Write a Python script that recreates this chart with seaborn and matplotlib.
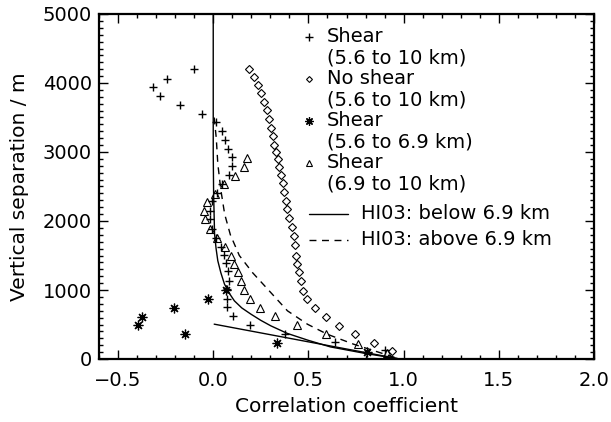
import numpy as np
import pandas as pd
import matplotlib
matplotlib.use("Agg")
import matplotlib.pyplot as plt
import seaborn as sns
from matplotlib.ticker import MultipleLocator

# ---- data ----
shear_x = [-0.103, -0.242, -0.315, -0.280, -0.172, -0.059, 0.012, 0.045, 0.063, 0.078,
           0.099, 0.099, 0.084, 0.047, 0.019, -0.005, -0.016, -0.016, -0.007, 0.012,
           0.042, 0.054, 0.065, 0.077, 0.085, 0.073, 0.071, 0.073, 0.103, 0.195,
           0.379, 0.638, 0.904]
shear_y = [4201, 4065, 3935, 3808, 3677, 3557, 3430, 3299, 3179, 3048,
           2926, 2798, 2667, 2536, 2408, 2286, 2151, 2031, 1885, 1754,
           1618, 1507, 1391, 1269, 1134, 1010, 876, 756, 625, 494,
           359, 247, 126]

noshear_x = [0.190, 0.213, 0.233, 0.251, 0.268, 0.282, 0.294, 0.303, 0.312, 0.320,
             0.329, 0.338, 0.346, 0.355, 0.364, 0.372, 0.381, 0.390, 0.398, 0.413,
             0.425, 0.428, 0.433, 0.442, 0.451, 0.460, 0.474, 0.495, 0.534, 0.590,
             0.660, 0.747, 0.846, 0.938]
noshear_y = [4196, 4089, 3978, 3856, 3725, 3605, 3484, 3353, 3227, 3106,
             2999, 2892, 2781, 2660, 2548, 2417, 2297, 2176, 2039, 1908,
             1788, 1650, 1497, 1376, 1254, 1124, 988, 868, 737, 610,
             480, 359, 237, 116]

low_x = [-0.376, -0.397, -0.207, -0.146, -0.026, 0.065, 0.333, 0.808]
low_y = [615, 494, 746, 359, 872, 1006, 237, 106]

high_x = [0.175, 0.159, 0.116, 0.059, 0.007, -0.031, -0.047, -0.045, -0.015, 0.022,
          0.062, 0.094, 0.111, 0.132, 0.146, 0.163, 0.195, 0.247, 0.325, 0.439,
          0.590, 0.761, 0.912]
high_y = [2910, 2788, 2653, 2529, 2394, 2272, 2151, 2031, 1890, 1751,
          1628, 1497, 1376, 1254, 1134, 999, 868, 746, 625, 487,
          356, 214, 83]

below_curve_x = [0.0, 0.0, 0.002, 0.007, 0.015, 0.024, 0.040, 0.059, 0.085, 0.111,
                 0.150, 0.198, 0.250, 0.303, 0.390, 0.500, 0.616, 0.800, 0.980]
below_curve_y = [5000, 3000, 2400, 1812, 1600, 1424, 1250, 1086, 950, 843,
                 740, 650, 560, 480, 370, 270, 175, 80, 0]
below_line_x = [0.005, 0.980]
below_line_y = [505, 0]

above_curve_x = [0.005, 0.016, 0.024, 0.040, 0.060, 0.090, 0.137, 0.207, 0.294, 0.390,
                 0.495, 0.599, 0.738, 0.912, 0.980]
above_curve_y = [3500, 3200, 2830, 2450, 2100, 1800, 1500, 1250, 988, 698,
                 504, 359, 214, 60, 0]

legend_titles = ["Shear", "No shear", "Shear", "Shear"]
legend_ranges = ["(5.6 to 10 km)", "(5.6 to 10 km)", "(5.6 to 6.9 km)", "(6.9 to 10 km)"]
line_labels = ["HI03: below 6.9 km", "HI03: above 6.9 km"]
xticks = [-0.5, 0.0, 0.5, 1.0, 1.5, 2.0]
yticks = [0, 1000, 2000, 3000, 4000, 5000]

# ---- style ----
sns.set_theme(style="ticks")
plt.rcParams["font.family"] = ["DejaVu Sans"]
plt.rcParams["text.color"] = "black"
plt.rcParams["axes.labelcolor"] = "black"
FS = 14

W, H = 611, 422
L, R, T, B = 99, 594, 14, 359
fig = plt.figure(figsize=(W / 100, H / 100), dpi=100)
ax = fig.add_axes([L / W, 1 - B / H, (R - L) / W, (B - T) / H])

def ax_x(px):
    return (px - L) / (R - L)

def ax_y(py):
    return (B - py) / (B - T)

mk = dict(color="black", linestyle="none", zorder=3)
sns.lineplot(x=below_curve_x, y=below_curve_y, sort=False, estimator=None, ax=ax,
             color="black", lw=1.0)
sns.lineplot(x=below_line_x, y=below_line_y, sort=False, estimator=None, ax=ax,
             color="black", lw=1.0)
ax.plot(above_curve_x, above_curve_y, color="black", lw=1.0, dashes=(5, 4))

ax.plot(shear_x, shear_y, marker="+", ms=5.5, mew=1.0, **mk)
ax.plot(noshear_x, noshear_y, marker="D", ms=3.6, mew=0.8, mfc="none", **mk)
ax.plot(low_x, low_y, marker=(8, 2, 0), ms=7, mew=0.9, **mk)
ax.plot(high_x, high_y, marker="^", ms=6, mew=0.8, mfc="none", **mk)

ax.set_xlim(-0.6, 2.0)
ax.set_ylim(0, 5000)
ax.set_xticks(xticks)
ax.set_yticks(yticks)
ax.set_xticklabels([f"{t:.1f}".replace("-", "\u2212") for t in xticks])
ax.xaxis.set_minor_locator(MultipleLocator(0.1))
ax.yaxis.set_minor_locator(MultipleLocator(100))
ax.tick_params(which="both", direction="in", top=True, right=True, width=1.0,
               colors="black", labelcolor="black", labelsize=FS)
ax.tick_params(axis="x", pad=9)
ax.tick_params(axis="y", pad=5)
ax.tick_params(which="major", length=6.5)
ax.tick_params(which="minor", length=3)
for s in ax.spines.values():
    s.set_linewidth(1.6)
    s.set_color("black")
ax.set_xlabel("Correlation coefficient", fontsize=FS + 0.5, va="center", color="black")
ax.set_ylabel("Vertical separation / m", fontsize=FS + 0.5, va="center", color="black")
ax.xaxis.set_label_coords(0.5, ax_y(406))
ax.yaxis.set_label_coords(ax_x(20), 0.5)

# ---- legend (manual, IDL style) ----
markers = [dict(marker="+", ms=5.5, mew=1.0),
           dict(marker="D", ms=3.0, mew=0.8, mfc="none"),
           dict(marker=(8, 2, 0), ms=6, mew=0.9),
           dict(marker="^", ms=4.5, mew=0.8, mfc="none")]
tr = ax.transAxes
for i, (t1, t2, m) in enumerate(zip(legend_titles, legend_ranges, markers)):
    py = 37 + i * 42
    ax.plot([ax_x(309)], [ax_y(py)], transform=tr, color="black", clip_on=False, **m)
    ax.text(ax_x(327), ax_y(py), t1, transform=tr, va="center", ha="left",
            fontsize=FS, color="black")
    ax.text(ax_x(327), ax_y(py + 21), t2, transform=tr, va="center", ha="left",
            fontsize=FS, color="black")
for j, (lab, ls) in enumerate(zip(line_labels, ["solid", "dashed"])):
    py = 214 + j * 26
    kw = dict(dashes=(5, 4)) if ls == "dashed" else {}
    ax.plot([ax_x(309), ax_x(348)], [ax_y(py), ax_y(py)], transform=tr,
            color="black", lw=1.0, **kw)
    ax.text(ax_x(361), ax_y(py), lab, transform=tr, va="center", ha="left",
            fontsize=FS, color="black")

fig.savefig("out.png", dpi=100)
